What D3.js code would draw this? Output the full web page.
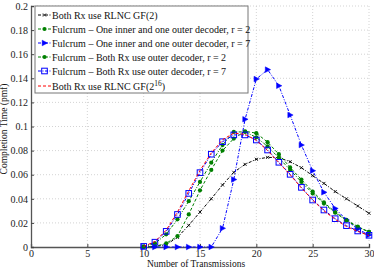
<!DOCTYPE html>
<html><head><meta charset="utf-8">
<script src="https://cdn.jsdelivr.net/npm/d3@7"></script>
<style>
html,body{margin:0;padding:0;background:#fff;}
svg{display:block;font-family:"Liberation Serif","Times New Roman",serif;}
</style></head>
<body><svg id="c" width="374" height="268"></svg>
<script>
const xValues = [10,11,12,13,14,15,16,17,18,19,20,21,22,23,24,25,26,27,28,29,30];
const gf2 = [0,0.0005,0.002,0.008,0.018,0.029,0.040,0.0515,0.062,0.0686,0.0728,0.0744,0.0741,0.0708,0.0658,0.0592,0.0528,0.046,0.040,0.034,0.028];
const oneInnerR2 = [0,0.0005,0.003,0.009,0.027,0.047,0.064,0.080,0.090,0.096,0.0945,0.087,0.077,0.066,0.056,0.046,0.037,0.029,0.0225,0.017,0.0125];
const oneInnerR7 = [0,0,0,0,0,0,0,0.0155,0.056,0.106,0.1394,0.1472,0.1338,0.1095,0.0846,0.0633,0.0454,0.032,0.0224,0.0149,0.010];
const bothOuterR2 = [0.0003,0.003,0.0105,0.023,0.038,0.054,0.070,0.0846,0.0955,0.0955,0.091,0.0835,0.074,0.064,0.054,0.0445,0.036,0.0285,0.022,0.0165,0.0125];
const bothOuterR7 = [0.0005,0.004,0.013,0.027,0.0445,0.0617,0.077,0.0874,0.093,0.093,0.0888,0.0805,0.0703,0.0603,0.0495,0.039,0.0307,0.0235,0.0177,0.0133,0.0097];
const gf216 = [0.0005,0.0045,0.014,0.029,0.0465,0.0635,0.078,0.089,0.0945,0.0935,0.0885,0.080,0.070,0.060,0.049,0.039,0.030,0.023,0.017,0.013,0.0095];
const labels = ["Both Rx use RLNC GF(2)","Fulcrum \u2013 One inner and one outer decoder, r = 2","Fulcrum \u2013 One inner and one outer decoder, r = 7","Fulcrum \u2013 Both Rx use outer decoder, r = 2","Fulcrum \u2013 Both Rx use outer decoder, r = 7","Both Rx use RLNC GF(2"];
const xTicks = [0,5,10,15,20,25,30];
const yTicks = [0,0.02,0.04,0.06,0.08,0.1,0.12,0.14,0.16,0.18,0.2];

const series = [
  {v:gf2, color:"#000", dash:"3,1.5,1,1.5", marker:"x"},
  {v:oneInnerR2, color:"#008000", dash:"3,2", marker:"dot"},
  {v:oneInnerR7, color:"#0000ff", dash:"3,1.5,1,1.5", marker:"tri"},
  {v:bothOuterR2, color:"#008000", dash:"3,1.5,1,1.5", marker:"dot"},
  {v:bothOuterR7, color:"#0000ff", dash:"3,1.5,1,1.5", marker:"sq"},
  {v:gf216, color:"#ff0000", dash:"3,2", marker:null}
];

const svg = d3.select("#c");
const L=31,R=369,T=6,B=247;
const x = d3.scaleLinear().domain([0,30]).range([L,R]);
const y = d3.scaleLinear().domain([0,0.2]).range([B,T]);

// grid
const g = svg.append("g");
g.selectAll(".gx").data(xTicks.slice(1)).enter().append("line")
  .attr("x1",d=>x(d)).attr("x2",d=>x(d)).attr("y1",T).attr("y2",B)
  .attr("stroke","#c8c8c8").attr("stroke-width",0.8).attr("stroke-dasharray","1,2");
g.selectAll(".gy").data(yTicks.slice(1)).enter().append("line")
  .attr("y1",d=>y(d)).attr("y2",d=>y(d)).attr("x1",L).attr("x2",R)
  .attr("stroke","#c8c8c8").attr("stroke-width",0.8).attr("stroke-dasharray","1,2");

// axes
const xa = svg.append("g").attr("transform",`translate(0,${B})`)
  .call(d3.axisBottom(x).tickValues(xTicks).tickSize(-3).tickPadding(3).tickFormat(d3.format("d")));
const ya = svg.append("g").attr("transform",`translate(${L},0)`)
  .call(d3.axisLeft(y).tickValues(yTicks).tickSize(-3).tickPadding(3).tickFormat(d=>d===0?"0":String(+d.toFixed(2))));
[xa,ya].forEach(a=>{
  a.selectAll("path").attr("stroke","#555").attr("stroke-width",1.3);
  a.selectAll("line").attr("stroke","#444");
  a.selectAll("text").attr("font-family","Liberation Serif").attr("font-size",10).attr("fill","#222");
});

// markers
function drawMarker(sel, type, color){
  if(type==="x"){
    sel.append("path").attr("d","M-1.5,-1.5L1.5,1.5M-1.5,1.5L1.5,-1.5").attr("stroke",color).attr("stroke-width",0.9).attr("fill","none");
  } else if(type==="dot"){
    sel.append("circle").attr("r",2.1).attr("fill",color);
  } else if(type==="tri"){
    sel.append("path").attr("d","M-2.3,-2.8L3,0L-2.3,2.8Z").attr("fill",color).attr("stroke",color).attr("stroke-width",0.5);
  } else if(type==="sq"){
    sel.append("rect").attr("x",-2.8).attr("y",-2.8).attr("width",5.6).attr("height",5.6).attr("fill","none").attr("stroke",color).attr("stroke-width",1);
  }
}

const line = d3.line().x((d,i)=>x(xValues[i])).y(d=>y(d));
series.forEach(s=>{
  const gs = svg.append("g");
  gs.append("path").attr("d",line(s.v)).attr("fill","none").attr("stroke",s.color)
    .attr("stroke-width",1).attr("stroke-dasharray",s.dash);
  if(s.marker){
    s.v.forEach((v,i)=>{
      drawMarker(gs.append("g").attr("transform",`translate(${x(xValues[i])},${y(v)})`), s.marker, s.color);
    });
  }
});

// legend
const lg = svg.append("g");
lg.append("rect").attr("x",35).attr("y",6).attr("width",213).attr("height",87)
  .attr("fill","#fff").attr("stroke","#777").attr("stroke-width",1);
const rowY = [15,29,43,57,71,86];
series.forEach((s,i)=>{
  const yy = rowY[i];
  lg.append("line").attr("x1",38).attr("x2",51).attr("y1",yy).attr("y2",yy)
    .attr("stroke",s.color).attr("stroke-width",1).attr("stroke-dasharray",s.dash);
  if(s.marker) drawMarker(lg.append("g").attr("transform",`translate(44.5,${yy})`), s.marker, s.color);
  const t = lg.append("text").attr("x",52).attr("y",yy).attr("dy","0.35em")
    .attr("font-size",10).attr("fill","#111").text(labels[i]);
  if(i===5){
    t.append("tspan").attr("font-size",7.5).attr("dy","-4").text("16");
    t.append("tspan").attr("font-size",10).attr("dy","4").text(")");
  }
});

// axis labels
svg.append("text").attr("x",196).attr("y",266.5).attr("text-anchor","middle")
  .attr("font-size",9.5).attr("fill","#111").text("Number of Transmissions");
svg.append("text").attr("transform","translate(7,129) rotate(-90)").attr("text-anchor","middle")
  .attr("font-size",9.5).attr("fill","#111").text("Completion Time (pmf)");
</script></body></html>
